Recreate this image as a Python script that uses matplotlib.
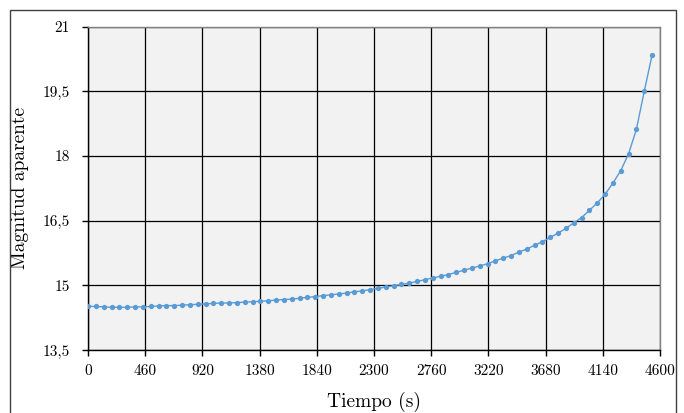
import matplotlib
matplotlib.use("Agg")
import matplotlib.pyplot as plt
from matplotlib.patches import Rectangle

plt.rcParams['font.family'] = ['cmr10', 'DejaVu Serif']
plt.rcParams['axes.formatter.use_mathtext'] = True

# Data (time in s, apparent magnitude)
tiempo = [0, 63, 126, 189, 252, 315, 378, 441, 504, 567, 630, 693, 756, 819, 882, 945,
          1008, 1071, 1134, 1197, 1260, 1323, 1386, 1449, 1512, 1575, 1638, 1701, 1764,
          1827, 1890, 1953, 2016, 2079, 2142, 2205, 2268, 2331, 2394, 2457, 2520, 2583,
          2646, 2709, 2772, 2835, 2898, 2961, 3024, 3087, 3150, 3213, 3276, 3339, 3402,
          3465, 3528, 3591, 3654, 3717, 3780, 3843, 3906, 3969, 4032, 4095, 4158, 4221,
          4284, 4347, 4410, 4473, 4536]
magnitud = [14.51, 14.51, 14.50, 14.49, 14.49, 14.49, 14.50, 14.50, 14.51, 14.52, 14.53,
            14.53, 14.54, 14.55, 14.56, 14.57, 14.58, 14.59, 14.59, 14.60, 14.61, 14.62,
            14.63, 14.64, 14.66, 14.67, 14.68, 14.70, 14.72, 14.74, 14.76, 14.78, 14.80,
            14.82, 14.85, 14.87, 14.90, 14.93, 14.96, 14.99, 15.02, 15.05, 15.09, 15.13,
            15.17, 15.21, 15.25, 15.30, 15.35, 15.40, 15.45, 15.50, 15.57, 15.63, 15.69,
            15.77, 15.84, 15.93, 16.01, 16.11, 16.21, 16.32, 16.45, 16.57, 16.74, 16.91,
            17.11, 17.37, 17.66, 18.05, 18.62, 19.50, 20.34]

xticks = [0, 460, 920, 1380, 1840, 2300, 2760, 3220, 3680, 4140, 4600]
yticks = [13.5, 15, 16.5, 18, 19.5, 21]
ytick_labels = ['13,5', '15', '16,5', '18', '19,5', '21']

fig = plt.figure(figsize=(6.84, 4.13), dpi=100)
ax = fig.add_axes([0.1287, 0.1525, 0.8363, 0.7833])
ax.set_facecolor('#F2F2F2')

ax.plot(tiempo, magnitud, color='#5B9BD5', lw=1.0, marker='o', markersize=3.8,
        markeredgewidth=0, zorder=3)

ax.set_xlim(0, 4600)
ax.set_ylim(13.5, 21)
ax.set_xticks(xticks)
ax.set_xticklabels([str(v) for v in xticks])
ax.set_yticks(yticks)
ax.set_yticklabels(ytick_labels)
ax.grid(True, color='#000000', lw=0.9, zorder=1)
ax.set_axisbelow(True)

for s in ['left', 'bottom']:
    ax.spines[s].set_color('black')
    ax.spines[s].set_linewidth(1.0)
for s in ['top', 'right']:
    ax.spines[s].set_color('#808080')
    ax.spines[s].set_linewidth(1.0)

ax.tick_params(axis='both', direction='out', length=4, width=1, labelsize=11,
               colors='black')
ax.tick_params(axis='x', pad=6)
ax.tick_params(axis='y', pad=9)

ax.set_xlabel('Tiempo (s)', fontsize=14, labelpad=10)
ax.set_ylabel('Magnitud aparente', fontsize=14, labelpad=10)

fig.patches.append(Rectangle((10 / 684, -0.1), 666 / 684, 1.1 - 10 / 413,
                             transform=fig.transFigure, fill=False,
                             edgecolor='#404040', lw=1.0))

fig.savefig('out.png', dpi=100)
